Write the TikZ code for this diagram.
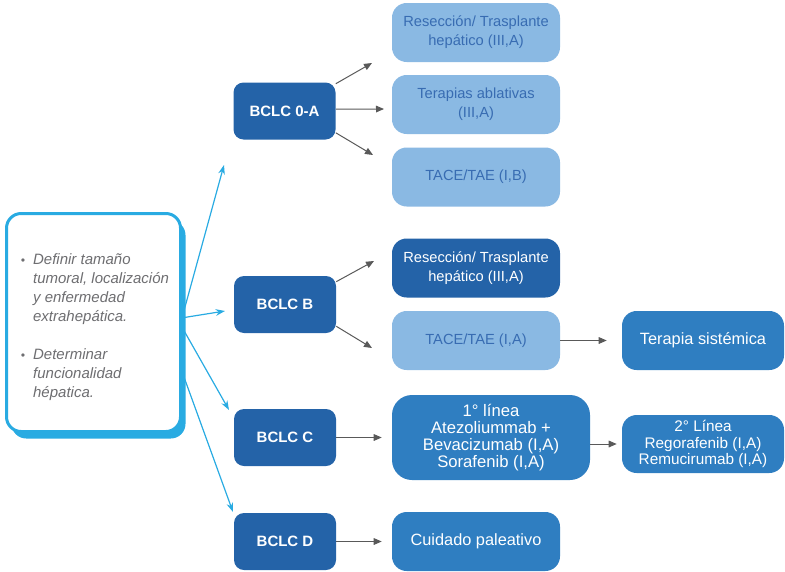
\documentclass[tikz,border=0pt]{standalone}
\usepackage{fontspec}
\setmainfont{Liberation Sans}
\usetikzlibrary{arrows.meta,shadows}

\definecolor{bclcdark}{RGB}{36,99,168}
\definecolor{bclcmid}{RGB}{47,126,193}
\definecolor{bclclight}{RGB}{138,185,227}
\definecolor{lighttext}{RGB}{56,108,178}
\definecolor{cyanline}{RGB}{41,171,226}
\definecolor{arrowgray}{RGB}{89,89,89}
\definecolor{notegray}{RGB}{110,110,113}

\tikzset{
  stage/.style={rectangle,rounded corners=7.5pt,fill=bclcdark,text=white,
    font=\fontsize{11.25}{13}\selectfont\bfseries,
    minimum width=76.5pt,minimum height=42.75pt,inner sep=0pt},
  treat/.style={rectangle,rounded corners=11pt,fill=bclclight,text=lighttext,
    font=\fontsize{11}{14.25}\selectfont,align=center,
    minimum width=126pt,minimum height=44.25pt,inner sep=0pt},
  treatdark/.style={treat,fill=bclcdark,text=white},
  treatmid/.style={treat,fill=bclcmid,text=white,font=\fontsize{12.25}{13}\selectfont},
  infobox/.style={rectangle,rounded corners=11pt,draw=cyanline,line width=2.25pt,fill=white,
    minimum width=130.5pt,minimum height=163.5pt,
    drop shadow={shadow xshift=3.75pt,shadow yshift=-5.25pt,fill=cyanline,opacity=1}},
  garrow/.style={draw=arrowgray,line width=0.75pt,-{Triangle[length=6pt,width=5pt]}},
  barrow/.style={draw=cyanline,line width=0.9pt,-{Stealth[length=7pt,width=5pt]}}
}

\begin{document}
\begin{tikzpicture}[x=0.75pt,y=-0.75pt]

%FRAME
\useasboundingbox (0,0) rectangle (785,571);
%FRAME

\node[infobox](info) at (93.5,322.5) {};
\node[text=notegray,font=\fontsize{11.25}{14.25}\selectfont\itshape](infotext) at (95,327.5) {%
  \begin{tabular}{@{}l@{\hspace{6pt}}l@{}}
  {\small\textbullet} & Definir tamaño\\
  & tumoral, localización\\
  & y enfermedad\\
  & extrahepática.\\[14.25pt]
  {\small\textbullet} & Determinar\\
  & funcionalidad\\
  & hépatica.
  \end{tabular}};

\node[stage](a0) at (284.5,111) {BCLC 0-A};
\node[stage](b0) at (285,304.5) {BCLC B};
\node[stage](c0) at (285,437.5) {BCLC C};
\node[stage](d0) at (285,541.5) {BCLC D};

\node[treat](r1) at (476,32.5) {Resección/ Trasplante\\hepático (III,A)};
\node[treat](r2) at (476,104.5) {Terapias ablativas\\(III,A)};
\node[treat](r3) at (476,177) {TACE/TAE (I,B)};

\node[treatdark](b1) at (476,268) {Resección/ Trasplante\\hepático (III,A)};
\node[treat](b2) at (476,340.5) {TACE/TAE (I,A)};
\node[treatmid,minimum width=121.5pt](bs) at (703,340.5) {Terapia sistémica};

\node[treatmid,rounded corners=15pt,minimum width=148.5pt,minimum height=63.75pt,
  font=\fontsize{12.5}{12.75}\selectfont](c1) at (491,437.5)
  {1° línea\\Atezoliummab +\\Bevacizumab (I,A)\\Sorafenib (I,A)};
\node[treatmid,minimum width=121.5pt,minimum height=43.5pt,
  font=\fontsize{11.5}{12.4}\selectfont](c2) at (703,444)
  {2° Línea\\Regorafenib (I,A)\\Remucirumab (I,A)};

\node[treatmid](d1) at (476,541.5) {Cuidado paleativo};

%FREE ENDS
\coordinate (t1) at (224,165);
\coordinate (t2) at (225,311);
\coordinate (t3) at (229,410);
\coordinate (t4) at (233,512);
\coordinate (e01) at (372,63);
\coordinate (e02) at (384,109);
\coordinate (e03) at (373,155);
\coordinate (eb1) at (374,261);
\coordinate (eb2) at (372,348);
%FREE ENDS

\draw[barrow] (info.3) -- (t1);
\draw[barrow] (info.3) -- (t2);
\draw[barrow] (info.-3) -- (t3);
\draw[barrow] (info.-29) -- (t4);

\draw[garrow] (a0.28) -- (e01);
\draw[garrow] (a0.2) -- (e02);
\draw[garrow] (a0.-23) -- (e03);

\draw[garrow] (b0.24) -- (eb1);
\draw[garrow] (b0.-23) -- (eb2);
\draw[garrow,shorten >=11.25pt] (b2) -- (bs);

\draw[garrow,shorten >=7.5pt] (c0) -- (c1);
\draw[garrow,shorten >=3.75pt] (c1.east |- c2) -- (c2);

\draw[garrow,shorten >=7.5pt] (d0) -- (d1);

\end{tikzpicture}
\end{document}
